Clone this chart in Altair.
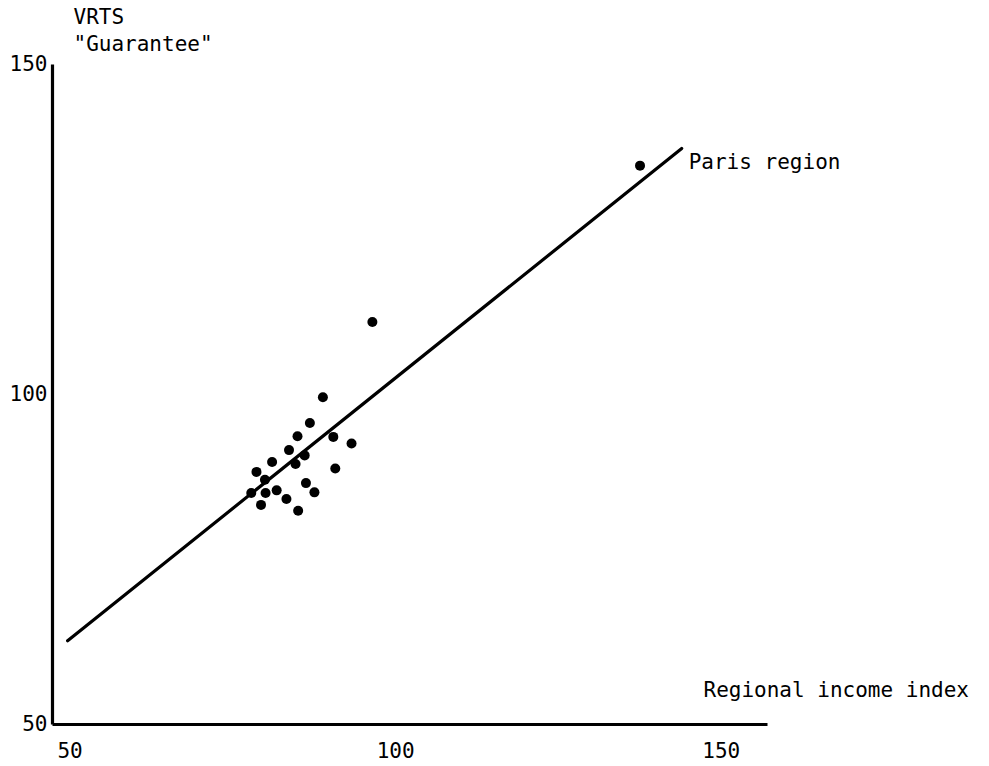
import altair as alt
import pandas as pd

# Regions: regional income index vs VRTS "guarantee"
income_index = [88.9, 86.9, 85.0, 90.5, 93.3, 83.7, 86.1, 81.1, 84.7, 90.8,
                78.7, 80.0, 86.3, 77.9, 80.1, 81.8, 87.6, 83.3, 79.4, 85.1,
                96.5, 137.6]
guarantee = [99.5, 95.6, 93.6, 93.5, 92.5, 91.5, 90.7, 89.7, 89.4, 88.7,
             88.2, 87.0, 86.5, 85.0, 85.0, 85.4, 85.1, 84.1, 83.2, 82.3,
             110.9, 134.6]

# Fitted relationship, drawn between its two end points
line_x = [49.7, 144.0]
line_y = [62.6, 137.2]
line_label = "Paris region"

x_ticks = [50, 100, 150]
y_ticks = [50, 100, 150]
x_title = "Regional income index"
y_title = ["VRTS", '"Guarantee"']

FONT = "DejaVu Sans Mono"

points = pd.DataFrame({"income": income_index, "vrts": guarantee})
fit = pd.DataFrame({"income": line_x, "vrts": line_y})
label = pd.DataFrame({"income": [line_x[-1]], "vrts": [line_y[-1]], "text": [line_label]})

x_scale = alt.Scale(domain=[47.3, 157.1], nice=False, zero=False)
y_scale = alt.Scale(domain=[50, 150], nice=False, zero=False)

x_axis = alt.Axis(
    values=x_ticks, grid=False, ticks=False, tickSize=0, labelPadding=16,
    labelFont=FONT, labelFontSize=21, labelColor="black", labelFlush=False,
    domainColor="black", domainWidth=3.2,
    title=x_title, titleFont=FONT, titleFontSize=21, titleFontWeight="normal",
    titleColor="black", titleAlign="left", titleBaseline="alphabetic",
    titleAnchor="start", titleX=651, titleY=-28,
)
y_axis = alt.Axis(
    values=y_ticks, grid=False, ticks=False, tickSize=0, labelPadding=5,
    labelFont=FONT, labelFontSize=21, labelColor="black", labelFlush=False,
    domainColor="black", domainWidth=3.2,
    title=y_title, titleFont=FONT, titleFontSize=21, titleFontWeight="normal",
    titleColor="black", titleAngle=0, titleAlign="left",
    titleBaseline="alphabetic", titleAnchor="start",
    titleX=21, titleY=-41, titleLineHeight=27,
)

base_x = alt.X("income:Q", scale=x_scale, axis=x_axis)
base_y = alt.Y("vrts:Q", scale=y_scale, axis=y_axis)

fit_line = alt.Chart(fit).mark_line(color="black", strokeWidth=3.2, strokeCap="round").encode(
    x=base_x, y=base_y
)
dots = alt.Chart(points).mark_circle(color="black", opacity=1, size=100).encode(
    x=alt.X("income:Q", scale=x_scale), y=alt.Y("vrts:Q", scale=y_scale)
)
text = alt.Chart(label).mark_text(
    font=FONT, fontSize=21, color="black", align="left", baseline="middle", dx=7, dy=15
).encode(
    x=alt.X("income:Q", scale=x_scale), y=alt.Y("vrts:Q", scale=y_scale), text="text:N"
)

chart = (
    alt.layer(fit_line, dots, text)
    .properties(
        width=715, height=660,
        autosize=alt.AutoSizeParams(type="none"),
        padding={"left": 52, "top": 64, "right": 222, "bottom": 42},
        background="white",
    )
    .configure_view(stroke=None)
)

chart.save("out.html", embed_options={"renderer": "svg", "actions": False})
